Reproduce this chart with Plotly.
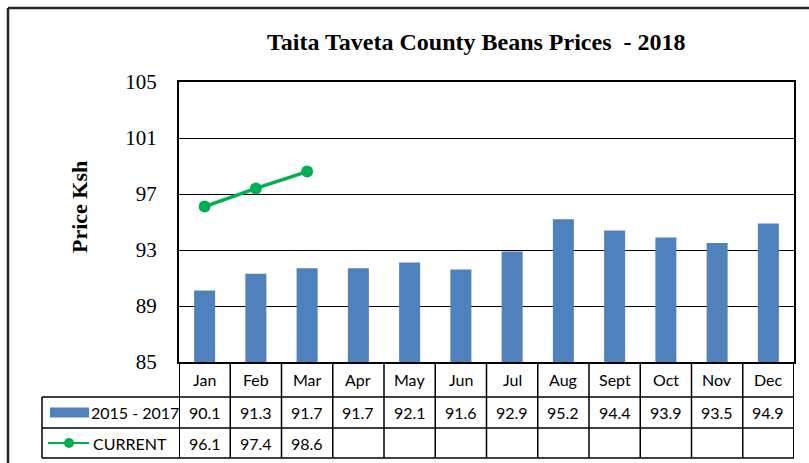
import plotly.graph_objects as go

# Monthly bean prices (Ksh), Taita Taveta County
months = ["Jan", "Feb", "Mar", "Apr", "May", "Jun", "Jul", "Aug", "Sept", "Oct", "Nov", "Dec"]
avg_2015_2017 = [90.1, 91.3, 91.7, 91.7, 92.1, 91.6, 92.9, 95.2, 94.4, 93.9, 93.5, 94.9]
current_2018 = [96.1, 97.4, 98.6]
y_ticks = [85, 89, 93, 97, 101, 105]
series_names = ["2015 - 2017", "CURRENT"]

W, H = 809, 463
BAR_COLOR = "#4F81BD"
LINE_COLOR = "#00B050"
SERIF = "Liberation Serif, Times New Roman, serif"
TABLE_FONT = dict(family="Lato, Liberation Sans, sans-serif", size=16, color="black")


def px(x):
    return x / W


def py(y):
    return 1 - y / H


# plot area and data-table geometry (pixels)
PLOT_L, PLOT_R, PLOT_T, PLOT_B = 179, 794, 82, 362
LEG_L = 42
ROW_LINES = [397, 428, 458]

fig = go.Figure()
fig.add_trace(go.Bar(x=months, y=avg_2015_2017, marker=dict(color=BAR_COLOR, line=dict(width=0)),
                     name=series_names[0]))
fig.add_trace(go.Scatter(x=months[:len(current_2018)], y=current_2018, mode="lines+markers",
                         line=dict(color=LINE_COLOR, width=3.5),
                         marker=dict(color=LINE_COLOR, size=12), name=series_names[1]))

shapes = []
# outer frame of the chart
shapes.append(dict(type="line", xref="paper", yref="paper", x0=px(8), x1=px(W + 5), y0=py(8), y1=py(8),
                   line=dict(color="#262626", width=2.5)))
shapes.append(dict(type="line", xref="paper", yref="paper", x0=px(8), x1=px(8), y0=py(8), y1=py(H + 5),
                   line=dict(color="#262626", width=2.5)))

# data table: horizontal rules
for r in ROW_LINES:
    shapes.append(dict(type="line", xref="paper", yref="paper", x0=px(LEG_L), x1=px(PLOT_R),
                       y0=py(r), y1=py(r), line=dict(color="black", width=1.5)))
# legend column left edge
shapes.append(dict(type="line", xref="paper", yref="paper", x0=px(LEG_L), x1=px(LEG_L),
                   y0=py(ROW_LINES[0]), y1=py(ROW_LINES[-1]), line=dict(color="black", width=1.5)))
# column separators aligned with the category axis
for i in range(len(months) + 1):
    shapes.append(dict(type="line", xref="x", yref="paper", x0=i - 0.5, x1=i - 0.5,
                       y0=py(PLOT_B), y1=py(ROW_LINES[-1]),
                       line=dict(color="black", width=1.5 if 0 < i < len(months) else 2)))

# legend keys inside the table
row2_mid = (ROW_LINES[0] + ROW_LINES[1]) / 2
row3_mid = (ROW_LINES[1] + ROW_LINES[2]) / 2
shapes.append(dict(type="rect", xref="paper", yref="paper", x0=px(50), x1=px(89),
                   y0=py(row2_mid - 5), y1=py(row2_mid + 5), fillcolor=BAR_COLOR, line=dict(width=0)))
shapes.append(dict(type="line", xref="paper", yref="paper", x0=px(48), x1=px(89),
                   y0=py(row3_mid), y1=py(row3_mid), line=dict(color=LINE_COLOR, width=2)))
shapes.append(dict(type="circle", xref="paper", yref="paper", x0=px(64), x1=px(74),
                   y0=py(row3_mid - 5), y1=py(row3_mid + 5), fillcolor=LINE_COLOR, line=dict(width=0)))

annotations = []
annotations.append(dict(text="<b>Taita Taveta County Beans Prices  - 2018</b>", xref="paper", yref="paper",
                        x=px(476), y=py(42), showarrow=False, xanchor="center", yanchor="middle",
                        font=dict(family=SERIF, size=24, color="black")))
annotations.append(dict(text="<b>Price Ksh</b>", xref="paper", yref="paper", x=px(79), y=py(207),
                        textangle=-90, showarrow=False, xanchor="center", yanchor="middle",
                        font=dict(family=SERIF, size=22, color="black")))

header_mid = (PLOT_B + ROW_LINES[0]) / 2
for i, m in enumerate(months):
    annotations.append(dict(text=m, xref="x", yref="paper", x=m, y=py(header_mid), showarrow=False,
                            xanchor="center", yanchor="middle", font=TABLE_FONT))
    annotations.append(dict(text=f"{avg_2015_2017[i]:.1f}", xref="x", yref="paper", x=m, y=py(row2_mid),
                            showarrow=False, xanchor="center", yanchor="middle", font=TABLE_FONT))
for i, v in enumerate(current_2018):
    annotations.append(dict(text=f"{v:.1f}", xref="x", yref="paper", x=months[i], y=py(row3_mid),
                            showarrow=False, xanchor="center", yanchor="middle", font=TABLE_FONT))

annotations.append(dict(text=series_names[0], xref="paper", yref="paper", x=px(89), y=py(row2_mid),
                        showarrow=False, xanchor="left", yanchor="middle", font=TABLE_FONT))
annotations.append(dict(text=series_names[1], xref="paper", yref="paper", x=px(91), y=py(row3_mid),
                        showarrow=False, xanchor="left", yanchor="middle", font=TABLE_FONT))

fig.update_layout(
    template="none",
    width=W, height=H,
    margin=dict(l=0, r=0, t=0, b=0, pad=0),
    paper_bgcolor="white", plot_bgcolor="white",
    showlegend=False,
    bargap=0.59,
    shapes=shapes,
    annotations=annotations,
    xaxis=dict(domain=[px(PLOT_L), px(PLOT_R)], range=[-0.5, len(months) - 0.5], automargin=False,
               showticklabels=False, ticks="", showgrid=False, zeroline=False,
               showline=True, linecolor="black", linewidth=2, mirror=True),
    yaxis=dict(domain=[py(PLOT_B), py(PLOT_T)], range=[y_ticks[0], y_ticks[-1]], automargin=False,
               tickvals=y_ticks, ticks="", ticklabelstandoff=16,
               tickfont=dict(family=SERIF, size=21, color="black"),
               showgrid=True, gridcolor="black", gridwidth=1.2, zeroline=False,
               showline=True, linecolor="black", linewidth=2, mirror=True),
)

fig.write_html("out.html")
